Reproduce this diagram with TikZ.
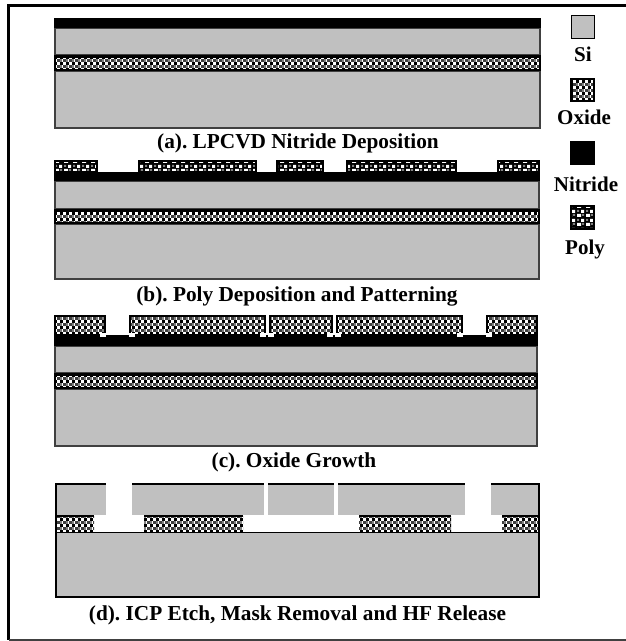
\documentclass[tikz,border=0pt]{standalone}
\usepackage{fontspec}
\setmainfont{Liberation Serif}
\usetikzlibrary{patterns}
\usepackage{xcolor}

\definecolor{sigray}{RGB}{192,192,192}
\definecolor{edgegray}{RGB}{64,64,64}

% Oxide texture: checks of black, white and gray
\pgfdeclarepatterninherentlycolored{oxidetex}{\pgfqpoint{-1pt}{-1pt}}{\pgfqpoint{7pt}{7pt}}{\pgfqpoint{6pt}{6pt}}{
    \pgfsetfillcolor{white}\pgfpathrectangle{\pgfpointorigin}{\pgfqpoint{6pt}{6pt}}\pgfusepath{fill}
    \pgfsetfillcolor{black}
    \pgfpathrectangle{\pgfqpoint{0pt}{0pt}}{\pgfqpoint{3pt}{3pt}}
    \pgfusepath{fill}
    \pgfsetfillcolor{edgegray}
    \pgfpathrectangle{\pgfqpoint{3pt}{3pt}}{\pgfqpoint{3pt}{3pt}}
    \pgfusepath{fill}
    \pgfsetfillcolor{gray}
    \pgfpathrectangle{\pgfqpoint{0pt}{3pt}}{\pgfqpoint{1.5pt}{3pt}}
    \pgfusepath{fill}
}

% Poly texture: black with white blobs
\pgfdeclarepatterninherentlycolored{polytex}{\pgfqpoint{-1pt}{-1pt}}{\pgfqpoint{10pt}{10pt}}{\pgfqpoint{9pt}{9pt}}{
    \pgfsetfillcolor{black}\pgfpathrectangle{\pgfpointorigin}{\pgfqpoint{9pt}{9pt}}\pgfusepath{fill}
    \pgfsetfillcolor{white}
    \pgfpathrectangle{\pgfqpoint{1pt}{1pt}}{\pgfqpoint{4pt}{3pt}}
    \pgfpathrectangle{\pgfqpoint{5pt}{5pt}}{\pgfqpoint{3pt}{3pt}}
    \pgfusepath{fill}
    \pgfsetfillcolor{gray}
    \pgfpathrectangle{\pgfqpoint{6pt}{2pt}}{\pgfqpoint{2pt}{2pt}}
    \pgfpathrectangle{\pgfqpoint{1pt}{6pt}}{\pgfqpoint{2pt}{2pt}}
    \pgfusepath{fill}
}

\begin{document}
\frenchspacing
\begin{tikzpicture}[
    x=1pt, y=-1pt,
    si/.style={fill=sigray, draw=edgegray, line width=1.3pt},
    bare/.style={fill=sigray},
    oxide/.style={pattern=oxidetex, draw=black, line width=2.6pt},
    nitride/.style={fill=black},
    poly/.style={pattern=polytex, draw=black, line width=1.6pt},
    grown/.style={pattern=oxidetex, draw=black, line width=2.4pt},
    notch/.style={fill=white},
    caption/.style={font=\bfseries\fontsize{21.3}{23}\selectfont, anchor=center, inner sep=0pt},
    legendtext/.style={font=\bfseries\fontsize{21}{23}\selectfont, anchor=center, inner sep=0pt},
    heavy/.style={draw=black, line width=2.4pt}
]
    \useasboundingbox (0,0) rectangle (626,641);

    % Outer frame, open on the right
    \draw[draw=black, line width=2.8pt] (626,5.5) -- (8.5,5.5) -- (8.5,640);
    \draw[draw=edgegray, line width=1.5pt] (8.5,640) -- (626,640);

    % Panel a
    \draw[si] (55,28) rectangle (540,55);
    \draw[si] (55,71) rectangle (540,128);
    \draw[oxide] (55,56.5) rectangle (540,70);
    \fill[nitride] (54,18) rectangle (541,28);
    \node[caption] (capa) at (298,143) {(a). LPCVD Nitride Deposition};

    % Panel b
    \draw[si] (55,181) rectangle (539,209);
    \draw[si] (55,224) rectangle (539,279);
    \draw[oxide] (55,210.5) rectangle (539,223);
    \fill[nitride] (54,172) rectangle (540,181);
    \draw[poly] (55,161) rectangle (97,172);
    \draw[poly] (139,161) rectangle (256,172);
    \draw[poly] (277,161) rectangle (323,172);
    \draw[poly] (347,161) rectangle (456,172);
    \draw[poly] (498,161) rectangle (539,172);
    \node[caption] (capb) at (297,296) {(b). Poly Deposition and Patterning};

    % Panel c
    \draw[si] (55,346) rectangle (537,373);
    \draw[si] (55,389) rectangle (537,446);
    \draw[oxide] (55,374.5) rectangle (537,388);
    \fill[nitride] (54,335) rectangle (538,346);
    \draw[grown] (55,316) rectangle (105,335);
    \draw[grown] (130,316) rectangle (265,335);
    \draw[grown] (270,316) rectangle (332,335);
    \draw[grown] (337,316) rectangle (462,335);
    \draw[grown] (487,316) rectangle (537,335);
    \fill[notch] (100,333) rectangle (106,337);
    \fill[notch] (129,333) rectangle (135,337);
    \fill[notch] (260,333) rectangle (266,337);
    \fill[notch] (268,333) rectangle (274,337);
    \fill[notch] (327,333) rectangle (333,337);
    \fill[notch] (335,333) rectangle (341,337);
    \fill[notch] (457,333) rectangle (463,337);
    \fill[notch] (486,333) rectangle (492,337);
    \node[caption] (capc) at (294,462) {(c). Oxide Growth};

    % Panel d, upper silicon pieces
    \fill[bare] (56,484) rectangle (106,515);
    \fill[bare] (132,484) rectangle (264,515);
    \fill[bare] (268,484) rectangle (334,515);
    \fill[bare] (338,484) rectangle (465,515);
    \fill[bare] (491,484) rectangle (539,515);
    \draw[heavy] (56,515) -- (56,484) -- (106,484);
    \draw[heavy] (132,484) -- (264,484);
    \draw[heavy] (268,484) -- (334,484);
    \draw[heavy] (338,484) -- (465,484);
    \draw[heavy] (491,484) -- (539,484) -- (539,515);

    % Panel d, oxide left after release
    \fill[pattern=oxidetex] (57,516) rectangle (94,532);
    \fill[pattern=oxidetex] (144,516) rectangle (243,532);
    \fill[pattern=oxidetex] (359,516) rectangle (451,532);
    \fill[pattern=oxidetex] (502,516) rectangle (539,532);
    \draw[heavy] (56,516) -- (94,516);
    \draw[heavy] (144,516) -- (243,516);
    \draw[heavy] (359,516) -- (451,516);
    \draw[heavy] (502,516) -- (539,516);
    \draw[heavy] (56,515) -- (56,532);
    \draw[heavy] (539,515) -- (539,532);

    % Panel d, lower silicon
    \draw[si, draw=black] (56,532.5) rectangle (539,597);
    \node[caption] (capd) at (297.5,615) {(d). ICP Etch, Mask Removal and HF Release};

    % Legend
    \draw[si, draw=black, line width=1.6pt] (571.5,15.5) rectangle (594.5,38.5);
    \node[legendtext] (lsi) at (583,54) {Si};
    \draw[grown] (571.5,79) rectangle (594,101);
    \node[legendtext] (lox) at (584,117) {Oxide};
    \fill[nitride] (570,141) rectangle (595,165);
    \node[legendtext] (lni) at (586,184) {Nitride};
    \draw[poly, line width=2.4pt] (571,206) rectangle (594,229);
    \node[legendtext] (lpo) at (585,249) {Poly};
\end{tikzpicture}
\end{document}
